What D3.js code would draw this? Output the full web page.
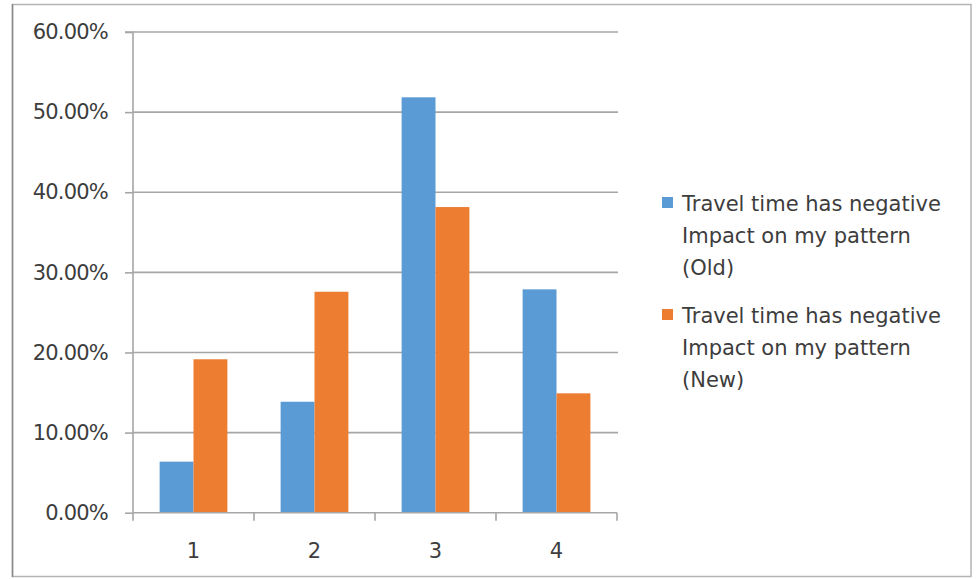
<!DOCTYPE html>
<html>
<head>
<meta charset="utf-8">
<script src="https://cdn.jsdelivr.net/npm/d3@7/dist/d3.min.js"></script>
<style>
  html, body { margin: 0; padding: 0; background: #fff; }
  svg { display: block; }
  text { font-family: "DejaVu Sans", sans-serif; fill: #3d3d3d; }
</style>
</head>
<body>
<svg id="chart" width="977" height="579"></svg>
<script>
// Survey categories and percentage shares per series
const categories = ["1", "2", "3", "4"];
const oldValues = [6.37, 13.85, 51.85, 27.88];
const newValues = [19.15, 27.58, 38.15, 14.9];
const seriesNames = [
  ["Travel time has negative", "Impact on my pattern", "(Old)"],
  ["Travel time has negative", "Impact on my pattern", "(New)"]
];
const seriesColors = ["#5B9BD5", "#ED7D31"];
const yTicks = [0, 10, 20, 30, 40, 50, 60];

const FONT = 21;
const svg = d3.select("#chart");

// outer frame
svg.append("rect")
  .attr("x", 12.5).attr("y", 4.5).attr("width", 958.5).attr("height", 572)
  .attr("fill", "#fff").attr("stroke", "#b4b4b4").attr("stroke-width", 1.5);
svg.append("line")
  .attr("x1", 12.5).attr("x2", 12.5).attr("y1", 4).attr("y2", 577)
  .attr("stroke", "#8a8a8a").attr("stroke-width", 1.5);

const plot = { left: 133, right: 617, top: 32, bottom: 512.7 };

const x = d3.scaleBand()
  .domain(categories)
  .range([plot.left, plot.right])
  .paddingInner(0.44).paddingOuter(0.22);

const xs = d3.scaleBand()
  .domain([0, 1])
  .range([0, x.bandwidth()]);

const y = d3.scaleLinear()
  .domain([0, 60])
  .range([plot.bottom, plot.top]);

// horizontal gridlines
svg.append("g")
  .selectAll("line")
  .data(yTicks.filter(d => d > 0))
  .join("line")
  .attr("x1", plot.left).attr("x2", plot.right + 1)
  .attr("y1", d => y(d)).attr("y2", d => y(d))
  .attr("stroke", "#a6a6a6").attr("stroke-width", 1.6);

// bars
const rows = categories.map((c, i) => ({ cat: c, vals: [oldValues[i], newValues[i]] }));
svg.append("g")
  .selectAll("g")
  .data(rows)
  .join("g")
  .attr("transform", d => `translate(${x(d.cat)},0)`)
  .selectAll("rect")
  .data(d => d.vals.map((v, k) => ({ v, k })))
  .join("rect")
  .attr("x", d => xs(d.k))
  .attr("width", xs.bandwidth())
  .attr("y", d => y(d.v))
  .attr("height", d => y(0) - y(d.v))
  .attr("fill", d => seriesColors[d.k]);

// y axis
const yAxis = svg.append("g")
  .attr("transform", `translate(${plot.left},0)`)
  .call(d3.axisLeft(y).tickValues(yTicks).tickSize(8).tickPadding(17)
    .tickFormat(d => d.toFixed(2) + "%"));
yAxis.select(".domain").attr("stroke", "#a6a6a6").attr("stroke-width", 1.6)
  .attr("d", `M-8,${plot.top}H0V${plot.bottom}`);
yAxis.selectAll(".tick line").attr("stroke", "#a6a6a6").attr("stroke-width", 1.6);
yAxis.selectAll(".tick text").attr("font-size", FONT).attr("fill", "#3d3d3d")
  .attr("font-family", "DejaVu Sans, sans-serif").attr("letter-spacing", -0.8);

// x axis with ticks between categories
const xAxisG = svg.append("g").attr("transform", `translate(0,${plot.bottom})`);
xAxisG.append("line")
  .attr("x1", plot.left).attr("x2", plot.right)
  .attr("stroke", "#a6a6a6").attr("stroke-width", 1.6);
const boundaries = d3.range(categories.length + 1).map(i => plot.left + i * (plot.right - plot.left) / categories.length);
xAxisG.selectAll("line.tk")
  .data(boundaries)
  .join("line").attr("class", "tk")
  .attr("x1", d => d).attr("x2", d => d)
  .attr("y1", 0).attr("y2", 8)
  .attr("stroke", "#a6a6a6").attr("stroke-width", 1.6);
xAxisG.selectAll("text")
  .data(categories)
  .join("text")
  .attr("x", d => x(d) + x.bandwidth() / 2)
  .attr("y", 45)
  .attr("text-anchor", "middle")
  .attr("font-size", FONT)
  .text(d => d);

// legend
const legend = svg.append("g").attr("transform", "translate(662,0)");
const entryTop = [197, 309];
seriesNames.forEach((lines, k) => {
  const g = legend.append("g").attr("transform", `translate(0,${entryTop[k]})`);
  g.append("rect").attr("x", 0).attr("y", 0).attr("width", 11).attr("height", 11)
    .attr("fill", seriesColors[k]);
  lines.forEach((t, j) => {
    g.append("text")
      .attr("x", 20).attr("y", 14 + j * 32)
      .attr("font-size", FONT)
      .text(t);
  });
});
</script>
</body>
</html>
